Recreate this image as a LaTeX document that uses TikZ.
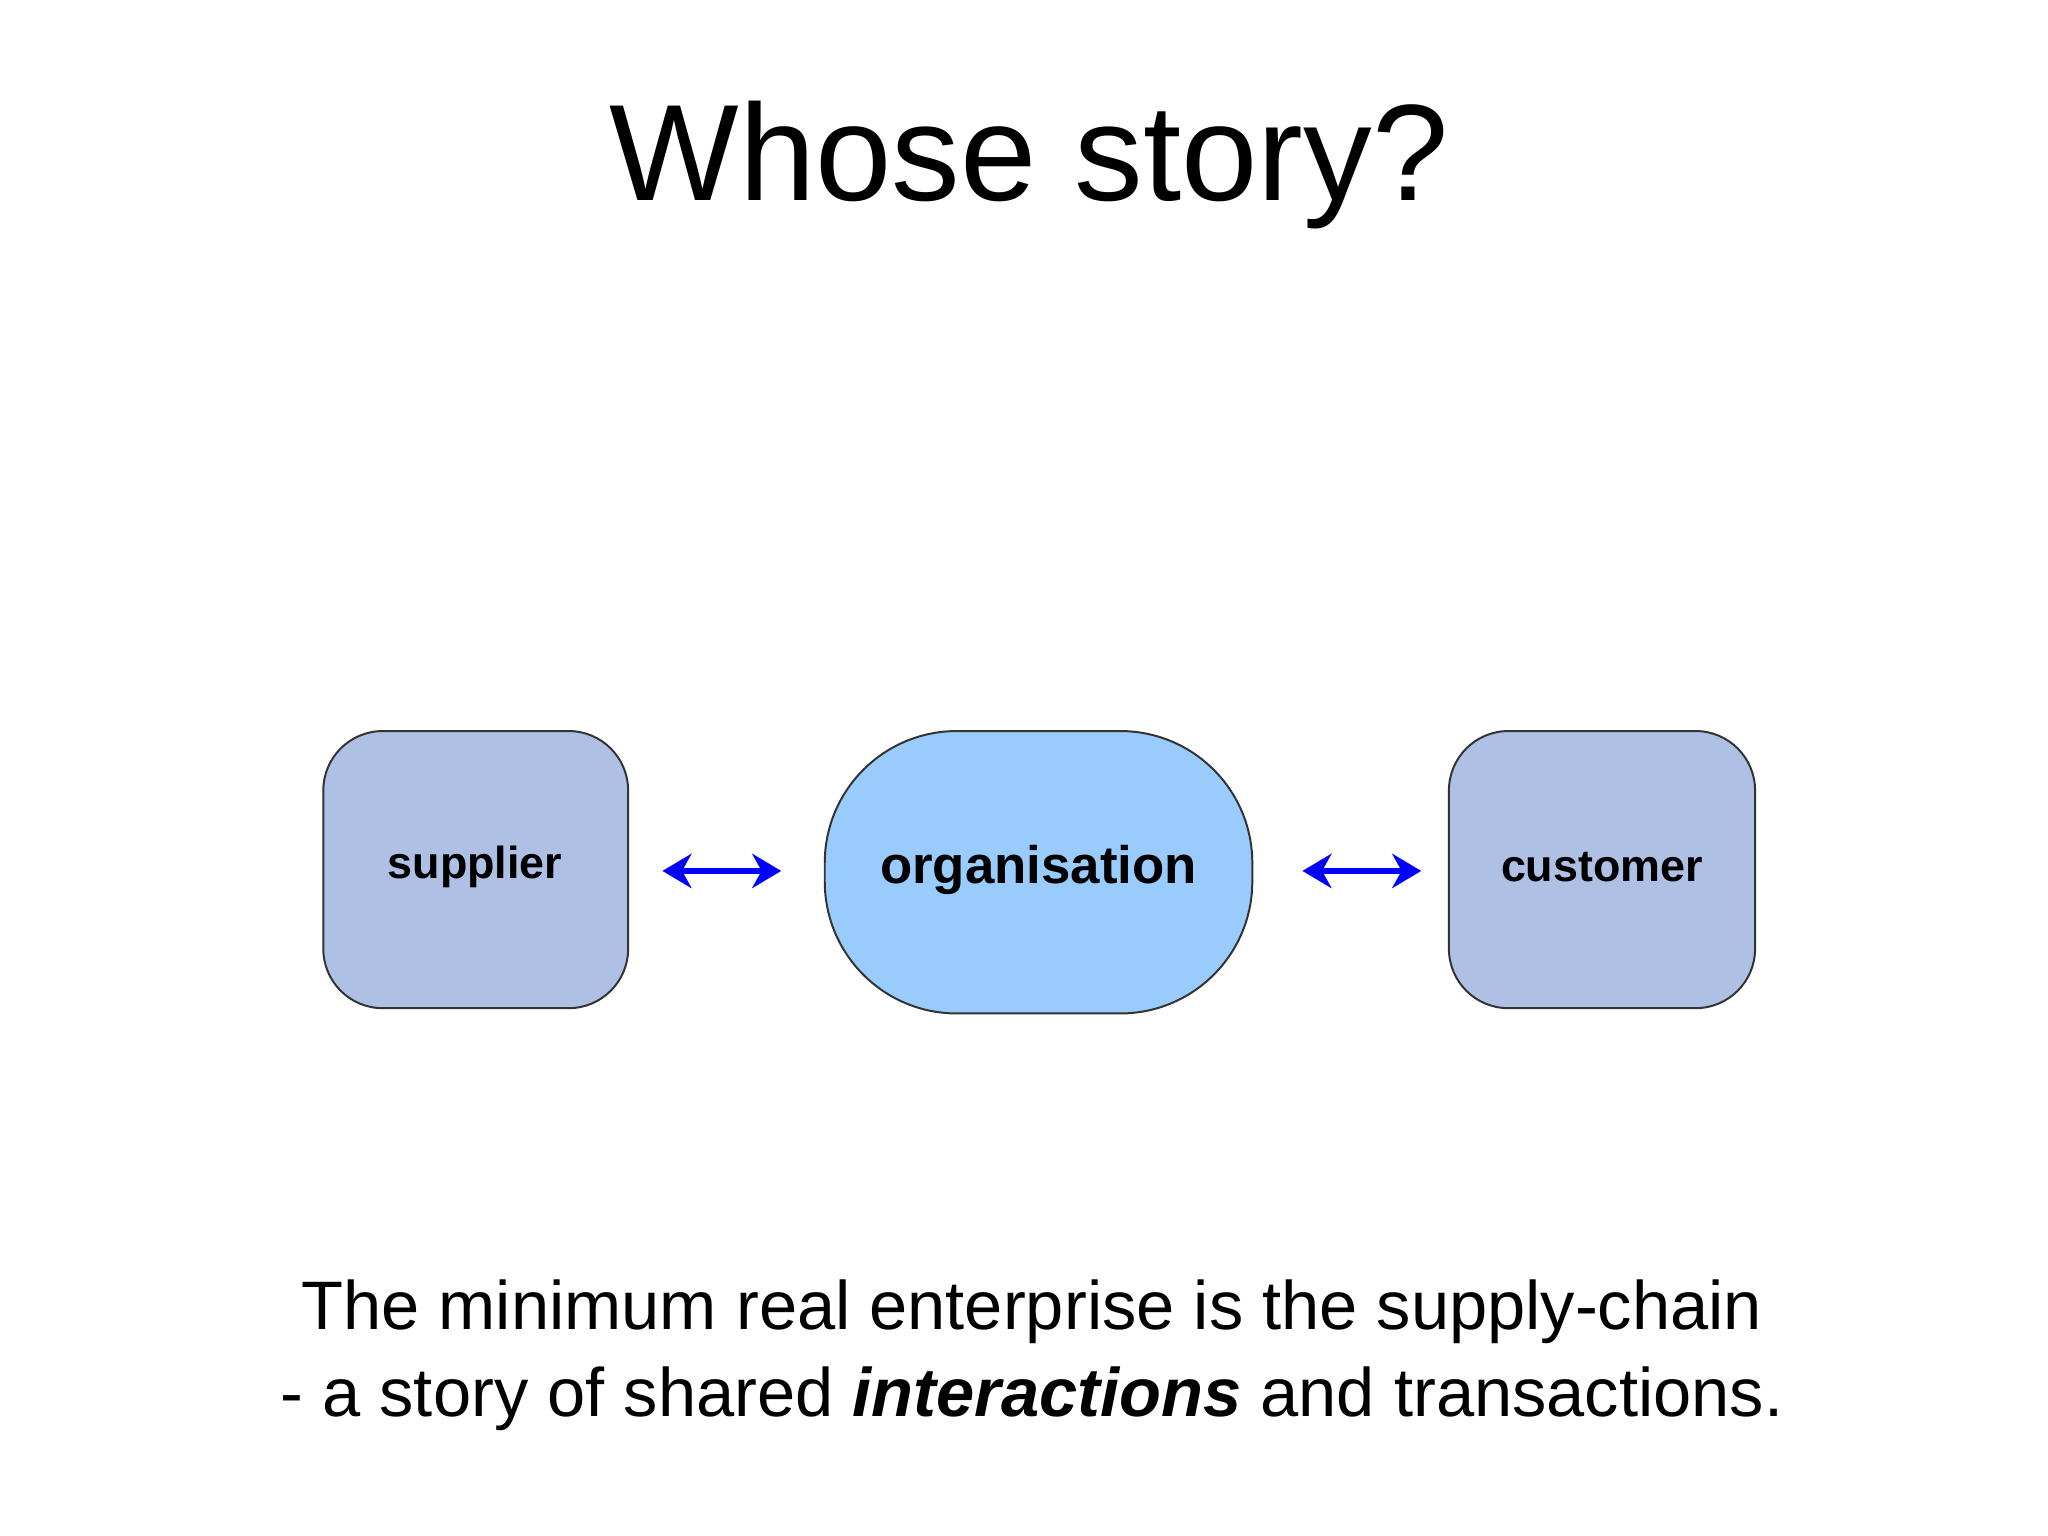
\documentclass[tikz,border=0pt]{standalone}
\usepackage{fontspec}
\setmainfont{Liberation Sans}
\usetikzlibrary{arrows.meta}
\definecolor{sbox}{HTML}{AEC0E3}
\definecolor{obox}{HTML}{99CBFC}
\begin{document}
\begin{tikzpicture}[x=1pt,y=-1pt,
  box/.style={draw=black!80,line width=1.5pt,fill=sbox,rounded corners=45pt},
  lab/.style={font=\fontsize{34}{40}\selectfont\bfseries},
  arr/.style={{Stealth[length=22pt,width=26pt]}-{Stealth[length=22pt,width=26pt]},blue,line width=4pt}]
\useasboundingbox (0,0) rectangle (1552,1164);
\node (title) at (780,125) {\fontsize{104}{120}\selectfont Whose story?};
\draw[box] (245,554) rectangle (476,764);
\node[lab] (sup) at (360,657) {supplier};
\draw[box,fill=obox,rounded corners=100pt] (625,554) rectangle (949,768);
\node[lab,font=\fontsize{40}{46}\selectfont\bfseries] (org) at (787,659) {organisation};
\draw[box] (1098,554) rectangle (1330,764);
\node[lab] (cus) at (1214,657) {customer};
\coordinate (a1) at (502,660); \coordinate (a2) at (592,660);
\coordinate (b1) at (987,660); \coordinate (b2) at (1077,660);
\draw[arr] (a1) -- (a2);
\draw[arr] (b1) -- (b2);
\node[align=center,font=\fontsize{52}{66}\selectfont] (txt) at (782,1027)
 {The minimum real enterprise is the supply-chain\\
 - a story of shared \textbf{\textit{interactions}} and transactions.};
\end{tikzpicture}
\end{document}
